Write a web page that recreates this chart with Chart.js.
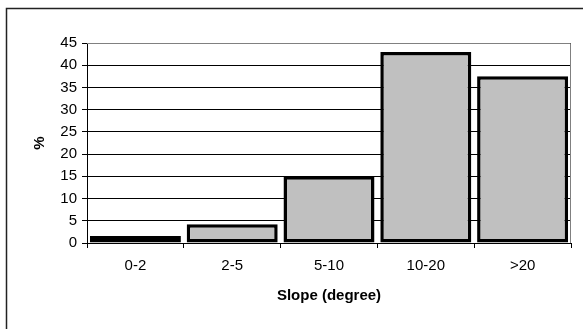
<!DOCTYPE html>
<html lang="en">
<head>
<meta charset="utf-8">
<title>Slope distribution</title>
<script src="https://cdn.jsdelivr.net/npm/chart.js@4.4.1/dist/chart.umd.min.js"></script>
<style>
  html, body { margin: 0; padding: 0; background: #ffffff; }
  #wrap { position: relative; width: 583px; height: 329px; }
</style>
</head>
<body>
<div id="wrap"><canvas id="graph"></canvas></div>
<script>
// slope classes and share of area (%)
var slopeClasses = ["0-2", "2-5", "5-10", "10-20", ">20"];
var slopeShare = [1.6, 4.2, 15, 43, 37.5];
var yTicks = [0, 5, 10, 15, 20, 25, 30, 35, 40, 45];

var font = { family: "'Liberation Sans', Arial, sans-serif", size: 15 };
var boldFont = { family: "'Liberation Sans', Arial, sans-serif", size: 15, weight: "bold" };

// outer frame + grey plot area border (top and right only)
var frame = {
  id: "frame",
  beforeDraw: function(chart) {
    var c = chart.ctx;
    c.save();
    c.fillStyle = "#ffffff";
    c.fillRect(0, 0, chart.width, chart.height);
    c.strokeStyle = "#222222";
    c.lineWidth = 1.5;
    c.beginPath();
    c.moveTo(6.5, chart.height);
    c.lineTo(6.5, 8.5);
    c.lineTo(chart.width, 8.5);
    c.stroke();
    c.restore();
  },
  beforeDatasetsDraw: function(chart) {
    var a = chart.chartArea, c = chart.ctx;
    c.save();
    c.strokeStyle = "#808080";
    c.lineWidth = 1;
    c.beginPath();
    c.moveTo(a.left, a.top + 0.5);
    c.lineTo(a.right - 0.5, a.top + 0.5);
    c.lineTo(a.right - 0.5, a.bottom);
    c.stroke();
    c.restore();
  }
};

var graph = document.getElementById("graph").getContext("2d");
new Chart(graph, {
  type: "bar",
  data: {
    labels: slopeClasses,
    datasets: [{
      label: "%",
      data: slopeShare,
      backgroundColor: "#c0c0c0",
      borderColor: "#000000",
      borderWidth: 3.5,
      borderSkipped: false,
      barPercentage: 0.94,
      categoryPercentage: 1.0
    }]
  },
  options: {
    responsive: true,
    maintainAspectRatio: false,
    animation: false,
    layout: { padding: { left: 0, top: 43, right: 12, bottom: 0 } },
    plugins: { legend: { display: false }, tooltip: { enabled: false } },
    scales: {
      x: {
        afterFit: function(s) { s.height = 86; },
        grid: { display: true, drawOnChartArea: false, drawTicks: true, tickLength: 5, color: "#000000", offset: true },
        border: { display: true, color: "#000000", width: 1 },
        ticks: { color: "#000000", font: font, padding: 9, maxRotation: 0 },
        title: { display: true, text: "Slope (degree)", color: "#000000", font: boldFont, padding: { top: 0, bottom: 24 } }
      },
      y: {
        min: 0, max: 45,
        afterFit: function(s) { s.width = 87; },
        afterBuildTicks: function(s) { s.ticks = yTicks.map(function(v) { return { value: v }; }); },
        grid: { color: "#000000", lineWidth: 1, tickLength: 5, drawTicks: true },
        border: { display: true, color: "#000000", width: 1 },
        ticks: { color: "#000000", font: font, padding: 5 },
        title: { display: true, text: "%", color: "#000000", font: boldFont, padding: { top: 31 } }
      }
    }
  },
  plugins: [frame]
});
</script>
</body>
</html>
